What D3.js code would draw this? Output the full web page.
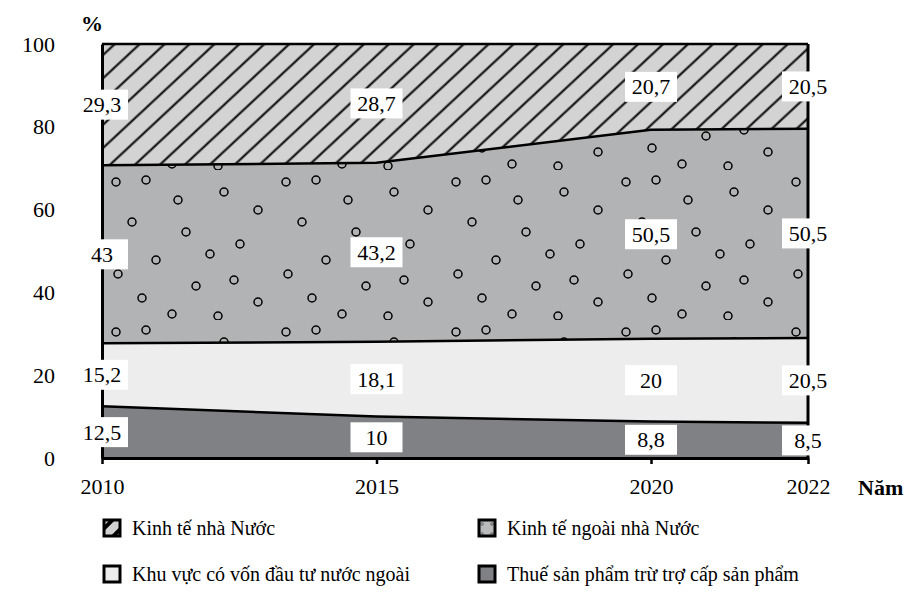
<!DOCTYPE html>
<html>
<head>
<meta charset="utf-8">
<script src="https://cdn.jsdelivr.net/npm/d3@7"></script>
<style>
  body { margin: 0; background: #fff; }
  svg text { font-family: "Liberation Serif", "Tinos", "Times New Roman", "DejaVu Serif", serif !important; }
</style>
</head>
<body>
<svg id="chart" width="921" height="601"></svg>
<script>
// ---- data ----
const years = [2010, 2015, 2020, 2022];
const thue = [12.5, 10, 8.8, 8.5];          // Thuế sản phẩm trừ trợ cấp sản phẩm
const fdi = [15.2, 18.1, 20, 20.5];          // Khu vực có vốn đầu tư nước ngoài
const ngoaiNhaNuoc = [43, 43.2, 50.5, 50.5]; // Kinh tế ngoài nhà Nước
const nhaNuoc = [29.3, 28.7, 20.7, 20.5];    // Kinh tế nhà Nước
const yTicks = [0, 20, 40, 60, 80, 100];
const seriesNames = ["Kinh tế nhà Nước", "Kinh tế ngoài nhà Nước", "Khu vực có vốn đầu tư nước ngoài", "Thuế sản phẩm trừ trợ cấp sản phẩm"];

const keys = ["thue", "fdi", "ngoai", "nha"];
const table = years.map((yr, i) => ({ year: yr, thue: thue[i], fdi: fdi[i], ngoai: ngoaiNhaNuoc[i], nha: nhaNuoc[i] }));

const svg = d3.select("#chart");

// scales (axis is not linear between 2020 and 2022 in the original)
const x = d3.scaleLinear().domain([2010, 2020, 2022]).range([102, 651, 808]);
const y = d3.scaleLinear().domain([0, 100]).range([458, 44]);

// patterns
const defs = svg.append("defs");
const hatch = defs.append("pattern").attr("id", "hatch")
  .attr("patternUnits", "userSpaceOnUse").attr("width", 17).attr("height", 17)
  .attr("patternTransform", "rotate(-43)");
hatch.append("rect").attr("width", 17).attr("height", 17).attr("fill", "#d3d3d4");
hatch.append("line").attr("x1", 0).attr("x2", 17).attr("y1", 8.5).attr("y2", 8.5)
  .attr("stroke", "#000").attr("stroke-width", 2);

const hatchSmall = defs.append("pattern").attr("id", "hatchSmall")
  .attr("patternUnits", "userSpaceOnUse").attr("width", 12).attr("height", 12)
  .attr("patternTransform", "rotate(-45)");
hatchSmall.append("rect").attr("width", 12).attr("height", 12).attr("fill", "#d3d3d4");
hatchSmall.append("line").attr("x1", 0).attr("x2", 12).attr("y1", 6).attr("y2", 6)
  .attr("stroke", "#000").attr("stroke-width", 4);

const dots = defs.append("pattern").attr("id", "dots")
  .attr("patternUnits", "userSpaceOnUse").attr("width", 170).attr("height", 150)
  .attr("x", 102).attr("y", 20);
dots.append("rect").attr("width", 170).attr("height", 150).attr("fill", "#b2b3b5");
[[14,12],[44,10],[76,30],[122,22],[156,40],[30,52],[84,62],[138,74],[54,90],[108,84],
 [16,104],[94,116],[132,110],[40,128],[156,132],[70,144],[116,146]].forEach(p => {
  dots.append("circle").attr("cx", p[0]).attr("cy", p[1]).attr("r", 4)
    .attr("fill", "none").attr("stroke", "#000").attr("stroke-width", 1.5);
});

const dotsSmall = defs.append("pattern").attr("id", "dotsSmall")
  .attr("patternUnits", "userSpaceOnUse").attr("width", 10).attr("height", 10)
  .attr("x", 479).attr("y", 520);
dotsSmall.append("rect").attr("width", 10).attr("height", 10).attr("fill", "#b9babc");
dotsSmall.append("circle").attr("cx", 4).attr("cy", 4).attr("r", 1.3)
  .attr("fill", "none").attr("stroke", "#666").attr("stroke-width", 1);

const fills = { thue: "#808184", fdi: "#ecedec", ngoai: "url(#dots)", nha: "url(#hatch)" };

const stack = d3.stack().keys(keys);
const stacked = stack(table);

const area = d3.area().x(d => x(d.data.year)).y0(d => y(d[0])).y1(d => y(d[1]));
const line = d3.line().x(d => x(d.data.year)).y(d => y(d[1]));

svg.append("g").selectAll("path").data(stacked).join("path")
  .attr("d", area).attr("fill", d => fills[d.key]);

svg.append("g").selectAll("path").data(stacked).join("path")
  .attr("d", line).attr("fill", "none").attr("stroke", "#000")
  .attr("stroke-width", 2.5);

// right edge
svg.append("line").attr("x1", x(2022)).attr("x2", x(2022)).attr("y1", y(0)).attr("y2", y(100))
  .attr("stroke", "#000").attr("stroke-width", 3);

// axes
const xAxis = svg.append("g").attr("transform", `translate(0,${y(0)})`)
  .call(d3.axisBottom(x).tickValues(years).tickFormat(d3.format("d")).tickSize(6).tickSizeOuter(0).tickPadding(14));
xAxis.select(".domain").attr("stroke", "#000").attr("stroke-width", 3);
xAxis.selectAll(".tick line").attr("stroke", "#000").attr("stroke-width", 2.5);
xAxis.selectAll(".tick text").attr("font-size", 22).attr("fill", "#000");

const yAxis = svg.append("g").attr("transform", `translate(${x(2010)},0)`)
  .call(d3.axisLeft(y).tickValues(yTicks).tickSize(0).tickPadding(47));
yAxis.select(".domain").attr("stroke", "#000").attr("stroke-width", 3);
yAxis.selectAll(".tick text").attr("font-size", 22).attr("fill", "#000");

svg.append("text").attr("x", 81).attr("y", 31).attr("font-weight", "bold").attr("font-size", 22).text("%");
svg.append("text").attr("x", 858).attr("y", 495).attr("font-weight", "bold").attr("font-size", 22).text("Năm");

// value labels
const fmt = v => String(v).replace(".", ",");
const labelData = [];
stacked.forEach(s => s.forEach(d => labelData.push({ year: d.data.year, mid: (d[0] + d[1]) / 2, v: d.data[s.key] })));
const lg = svg.append("g").selectAll("g").data(labelData).join("g")
  .attr("transform", d => `translate(${x(d.year)},${y(d.mid)})`);
lg.append("rect").attr("x", -26).attr("y", -15).attr("width", 52).attr("height", 30).attr("fill", "#fff");
lg.append("text").attr("text-anchor", "middle").attr("dy", "0.34em").attr("font-size", 22).attr("fill", "#000")
  .text(d => fmt(d.v));

// legend
const legendItems = [
  { name: seriesNames[0], fill: "url(#hatchSmall)", col: 0, row: 0 },
  { name: seriesNames[1], fill: "url(#dotsSmall)", col: 1, row: 0 },
  { name: seriesNames[2], fill: "#ecedec", col: 0, row: 1 },
  { name: seriesNames[3], fill: "#808184", col: 1, row: 1 }
];
const colX = [104, 479];
const rowY = [520, 566];
const li = svg.append("g").selectAll("g").data(legendItems).join("g")
  .attr("transform", d => `translate(${colX[d.col]},${rowY[d.row]})`);
li.append("rect").attr("width", 16).attr("height", 16).attr("fill", d => d.fill)
  .attr("stroke", "#000").attr("stroke-width", 3);
li.append("text").attr("x", 28).attr("y", 15).attr("font-size", 20).attr("fill", "#000").text(d => d.name);
</script>
</body>
</html>
